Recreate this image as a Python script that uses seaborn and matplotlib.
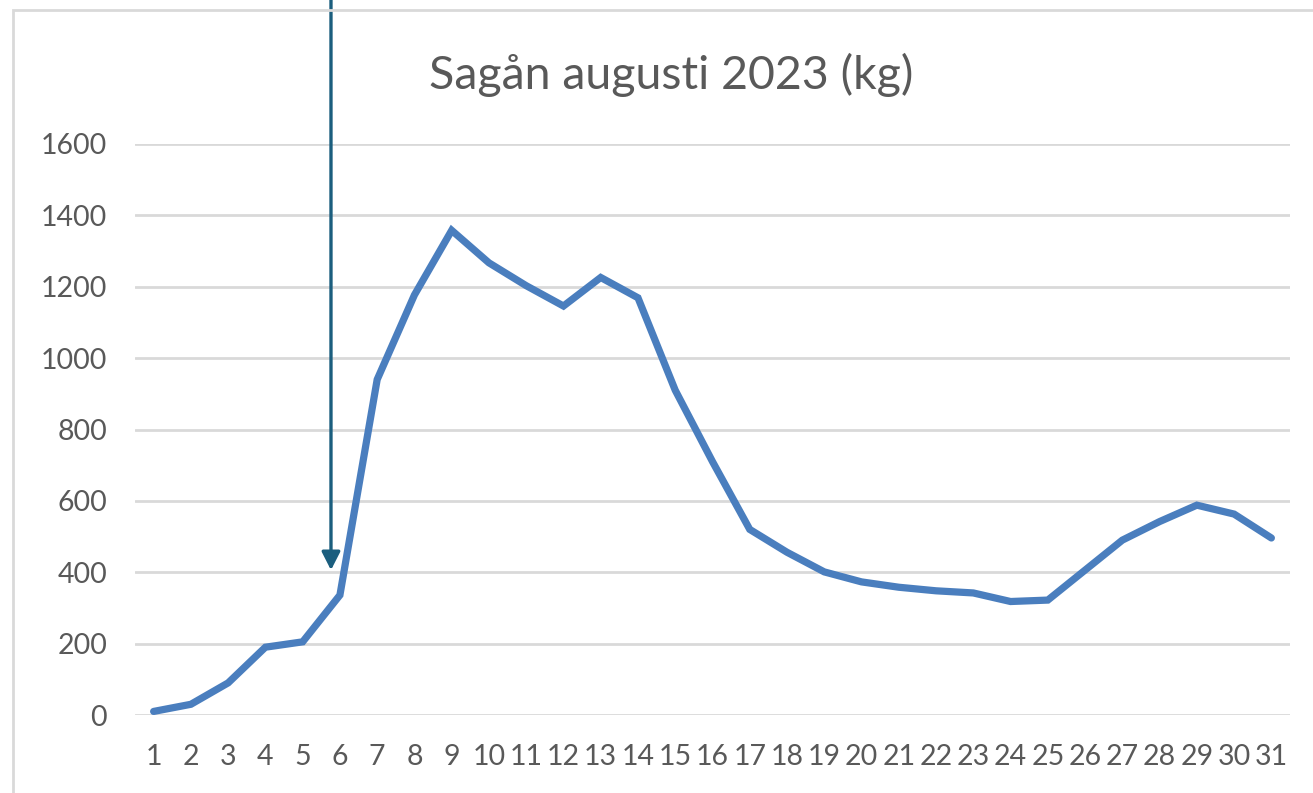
import matplotlib
matplotlib.use("Agg")
import matplotlib.pyplot as plt
import seaborn as sns
import pandas as pd
from matplotlib.patches import Rectangle

days = list(range(1, 32))
kg = [10, 30, 90, 190, 205, 336, 940, 1177, 1358, 1267, 1203, 1146, 1226, 1169, 910,
      710, 520, 456, 401, 373, 358, 348, 342, 318, 322, 406, 490, 542, 588, 563, 496]
title = "Sagån augusti 2023 (kg)"
yticks = [0, 200, 400, 600, 800, 1000, 1200, 1400, 1600]
arrow_x = 5.76
arrow_y = 406

df = pd.DataFrame({"day": days, "kg": kg})

sns.set_theme(style="white")
plt.rcParams['font.family'] = ['Lato', 'DejaVu Sans']

fig = plt.figure(figsize=(13.13, 7.93), dpi=100)
ax = fig.add_axes([135/1313, 1-715/793, (1290-135)/1313, (715-144)/793])

sns.lineplot(data=df, x="day", y="kg", ax=ax, color="#4A7EBE", linewidth=5.2,
             solid_joinstyle="miter", solid_capstyle="round")

ax.set_xlim(0.5, 31.5)
ax.set_ylim(0, 1600)
ax.set_yticks(yticks)
ax.set_xticks(days)
ax.set_xticklabels([str(d) for d in days])
ax.yaxis.grid(True, color="#D9D9D9", linewidth=2)
ax.xaxis.grid(False)
ax.set_axisbelow(True)
for s in ax.spines.values():
    s.set_visible(False)
ax.tick_params(axis="both", length=0, labelsize=20.5, colors="#595959")
ax.tick_params(axis="y", pad=20)
ax.tick_params(axis="x", pad=21)
ax.set_xlabel("")
ax.set_ylabel("")

fig.text(671/1313, 1-75/793, title, ha="center", va="center", fontsize=33.5, color="#595959")

ax.annotate("", xy=(arrow_x, arrow_y), xytext=(arrow_x, 2100),
            arrowprops=dict(arrowstyle="-|>,head_length=0.55,head_width=0.28",
                            color="#1B5E7E", lw=2.4, shrinkA=0, shrinkB=0,
                            mutation_scale=20),
            annotation_clip=False)

fig.patches.append(Rectangle((13/1313, -0.1), 1.2, 1.1 - 10/793, transform=fig.transFigure,
                             fill=False, edgecolor="#D9D9D9", linewidth=2))

fig.savefig("out.png", dpi=100)
